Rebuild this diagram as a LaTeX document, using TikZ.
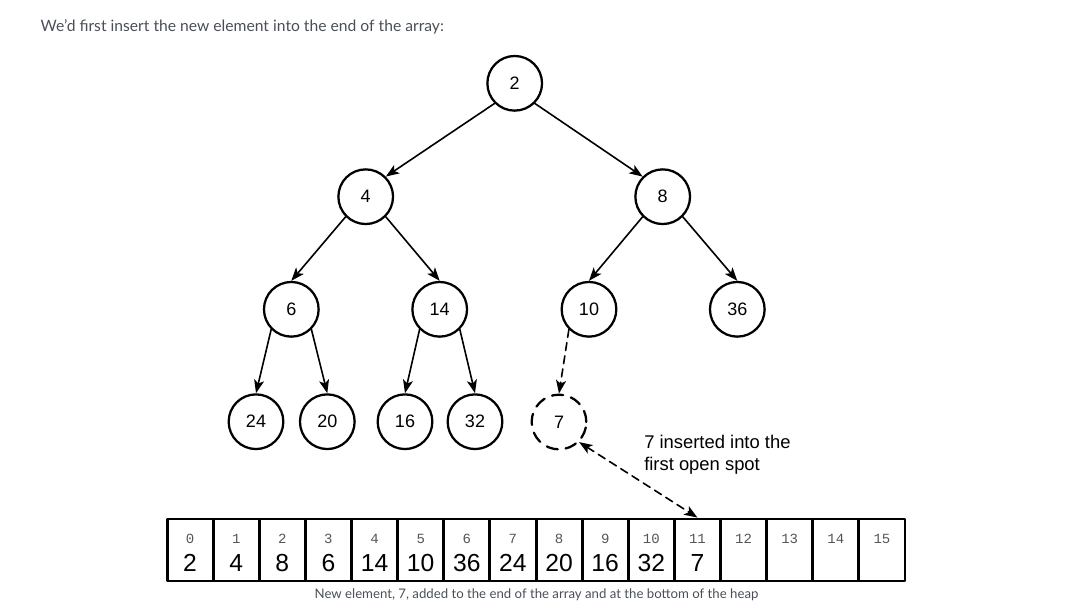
\documentclass[tikz,border=0pt]{standalone}
\usepackage{fontspec}
\setmainfont{Liberation Sans}
\setmonofont{Liberation Mono}
\newfontfamily\latofont{Lato}
\usepackage{tikz}
\usetikzlibrary{arrows.meta}
\definecolor{textgray}{HTML}{4A4F57}
\definecolor{idxgray}{HTML}{555555}

\begin{document}
\begin{tikzpicture}[line cap=round,line join=round,>={Stealth[length=10pt,width=7.5pt,inset=2.5pt]},x=0.75pt,y=-0.75pt,
  key/.style={circle,draw,line width=1.7pt,minimum size=41pt,inner sep=0pt,font=\fontsize{13.5}{15}\selectfont},
  newkey/.style={key,dashed,dash pattern=on 8.5pt off 6pt},
  edge/.style={->,line width=1.2pt},
  cell/.style={draw,line width=2.2pt,line cap=butt,minimum width=34.6pt,minimum height=46.5pt,inner sep=0pt},
  idx/.style={font=\ttfamily\fontsize{10.5}{12}\selectfont,text=idxgray,inner sep=0pt},
  val/.style={font=\fontsize{18.5}{20}\selectfont,inner sep=0pt}]
\useasboundingbox (0,0) rectangle (1067,612);
% captions
\node[anchor=west,font=\latofont\fontsize{11.75}{14}\selectfont,text=textgray] (title) at (36,27) {We’d first insert the new element into the end of the array:};
\node[font=\latofont\fontsize{9.9}{12}\selectfont,text=textgray] (caption) at (536.5,595) {New element, 7, added to the end of the array and at the bottom of the heap};
% heap
\node[key] (n2) at (514.7,83.3) {2};
\node[key] (n4) at (365.7,196.7) {4};
\node[key] (n8) at (662.7,196.7) {8};
\node[key] (n6) at (291.3,309.3) {6};
\node[key] (n14) at (439.7,309.3) {14};
\node[key] (n10) at (589,309.3) {10};
\node[key] (n36) at (737.3,309.3) {36};
\node[key] (n24) at (256,421.7) {24};
\node[key] (n20) at (327.3,421.7) {20};
\node[key] (n16) at (405,421.7) {16};
\node[key] (n32) at (475,421.7) {32};
\node[newkey] (n7) at (559,422) {7};
\draw[edge] (n2.south west) -- (n4.north east);
\draw[edge] (n2.south east) -- (n8.north west);
\draw[edge] (n4.south west) -- (n6.north);
\draw[edge] (n4.south east) -- (n14.north);
\draw[edge] (n8.south west) -- (n10.north);
\draw[edge] (n8.south east) -- (n36.north);
\draw[edge] (n6.south west) -- (n24.north);
\draw[edge] (n6.south east) -- (n20.north);
\draw[edge] (n14.south west) -- (n16.north);
\draw[edge] (n14.south east) -- (n32.north);
\draw[edge,dash pattern=on 6pt off 4pt] (n10.south west) -- (n7.north);
\node[anchor=north west,align=left,inner sep=0pt,font=\fontsize{13.8}{16.5}\selectfont] (note) at (644,435) {7 inserted into the\\first open spot};
% array
\node[cell] (c0) at (190.1,550) {}; \node[idx] at (190.1,539) {0}; \node[val] at (190.1,563) {2};
\node[cell] (c1) at (236.2,550) {}; \node[idx] at (236.2,539) {1}; \node[val] at (236.2,563) {4};
\node[cell] (c2) at (282.3,550) {}; \node[idx] at (282.3,539) {2}; \node[val] at (282.3,563) {8};
\node[cell] (c3) at (328.4,550) {}; \node[idx] at (328.4,539) {3}; \node[val] at (328.4,563) {6};
\node[cell] (c4) at (374.6,550) {}; \node[idx] at (374.6,539) {4}; \node[val] at (374.6,563) {14};
\node[cell] (c5) at (420.7,550) {}; \node[idx] at (420.7,539) {5}; \node[val] at (420.7,563) {10};
\node[cell] (c6) at (466.8,550) {}; \node[idx] at (466.8,539) {6}; \node[val] at (466.8,563) {36};
\node[cell] (c7) at (512.9,550) {}; \node[idx] at (512.9,539) {7}; \node[val] at (512.9,563) {24};
\node[cell] (c8) at (559.1,550) {}; \node[idx] at (559.1,539) {8}; \node[val] at (559.1,563) {20};
\node[cell] (c9) at (605.2,550) {}; \node[idx] at (605.2,539) {9}; \node[val] at (605.2,563) {16};
\node[cell] (c10) at (651.3,550) {}; \node[idx] at (651.3,539) {10}; \node[val] at (651.3,563) {32};
\node[cell] (c11) at (697.4,550) {}; \node[idx] at (697.4,539) {11}; \node[val] at (697.4,563) {7};
\node[cell] (c12) at (743.6,550) {}; \node[idx] at (743.6,539) {12};
\node[cell] (c13) at (789.7,550) {}; \node[idx] at (789.7,539) {13};
\node[cell] (c14) at (835.8,550) {}; \node[idx] at (835.8,539) {14};
\node[cell] (c15) at (881.9,550) {}; \node[idx] at (881.9,539) {15};
\draw[<->,line width=1.2pt,dash pattern=on 6pt off 4pt] (n7.south east) -- (c11.north);
\end{tikzpicture}
\end{document}
